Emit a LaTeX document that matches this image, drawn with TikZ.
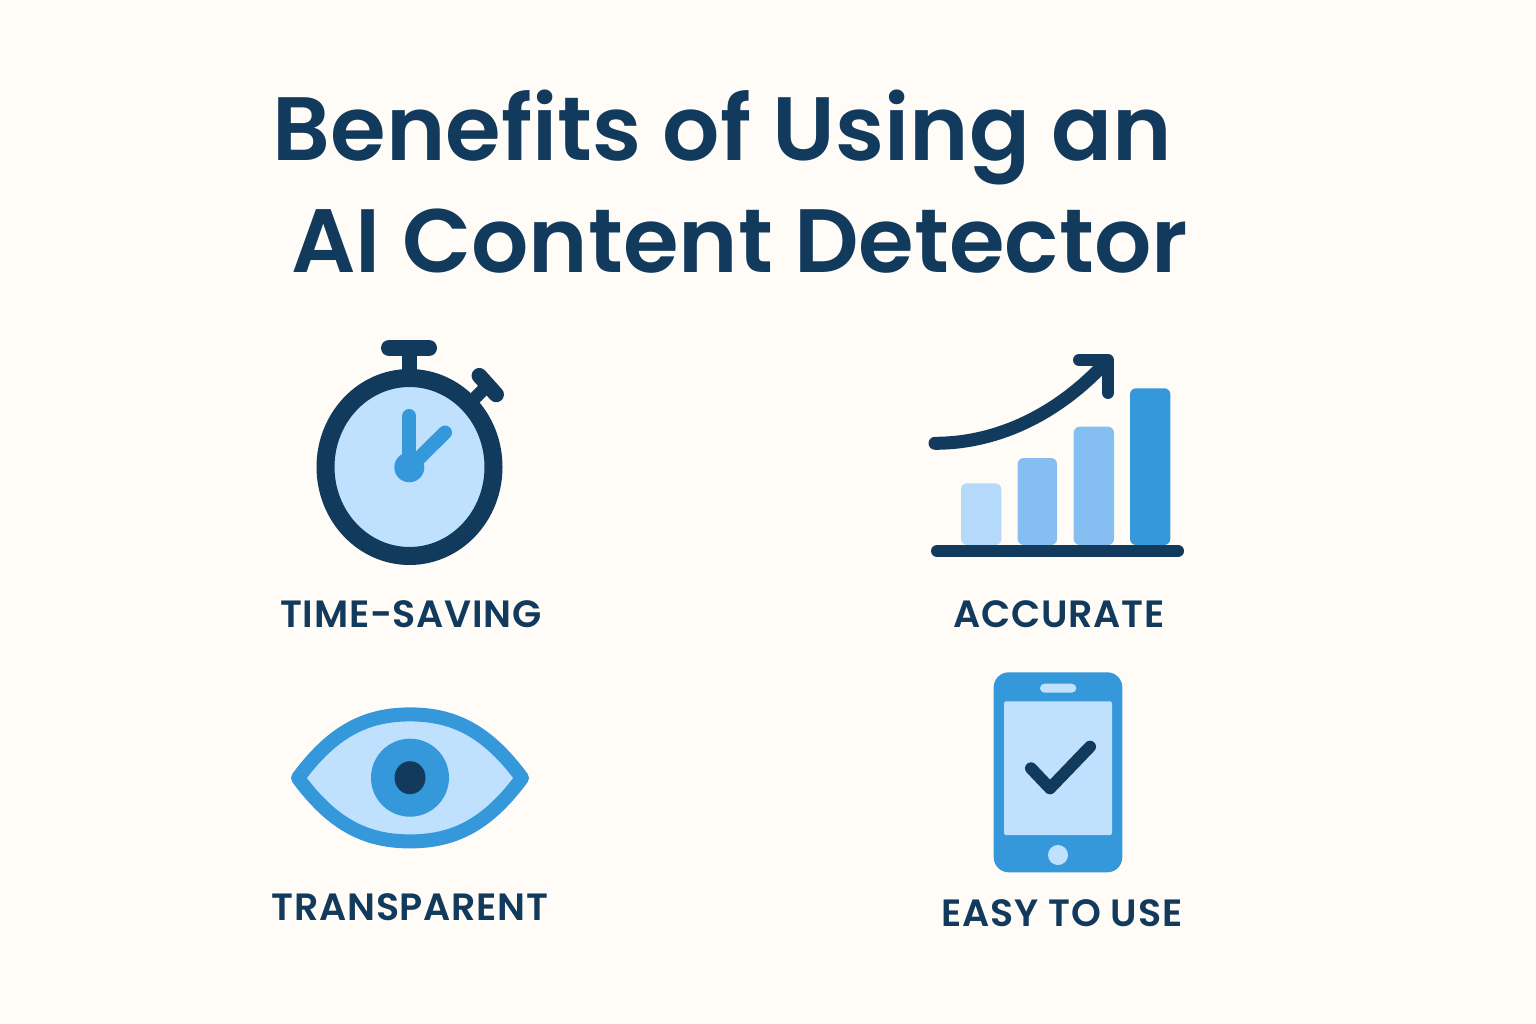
\documentclass[tikz,border=0pt]{standalone}
\usepackage{fontspec}
\setmainfont{Poppins SemiBold}
\usepackage{tikz}
\definecolor{paper}{HTML}{FFFCF7}
\definecolor{navy}{HTML}{123A5C}
\definecolor{sky}{HTML}{3498DB}
\definecolor{pale}{HTML}{BFE1FD}
\definecolor{palebar}{HTML}{B5D9FB}
\definecolor{midbar}{HTML}{85BFF2}
\newcommand{\headfont}{\fontsize{90}{112}\selectfont}
\newcommand{\capfont}{\fontsize{38}{46}\selectfont\addfontfeatures{LetterSpace=2}}

\begin{document}
\begin{tikzpicture}[x=1pt,y=-1pt]
      \tikzstyle{heading}=[text=navy,inner sep=0pt,anchor=base,font=\headfont]
      \tikzstyle{caption}=[text=navy,inner sep=0pt,anchor=base,font=\capfont]
      \tikzstyle{inkline}=[draw=navy,line cap=round]
      \tikzstyle{handline}=[draw=sky,line width=14pt,line cap=round]
      \tikzstyle{bar}=[rounded corners=6pt]
      \fill[paper] (0,0) rectangle (1536,1024);

      \node (title1) [heading] at (722.5,160.5) {Benefits of Using an};
      \node (title2) [heading] at (739.5,272.5) {AI Content Detector};

      \draw[inkline,line width=16pt] (389,348) -- (429,348);
      \draw[draw=navy,line width=15pt] (409.5,348) -- (409.5,375);
      \draw[draw=navy,line width=13pt] (487,386) -- (468,405);
      \draw[inkline,line width=15.5pt] (479.3,375.7) -- (496.2,394.5);
      \draw[draw=navy,fill=pale,line width=18pt] (409.5,467) ellipse [x radius=84,y radius=89];
      \draw[handline] (409.3,416) -- (409.3,467);
      \draw[handline] (445,432.5) -- (410,467);
      \fill[sky] (409.3,467.3) circle [radius=15];
      \node (timelabel) [caption] at (411,627) {TIME-SAVING};

      \fill[palebar,bar] (961,545) |- (1001.3,483.3) -- (1001.3,545) -- cycle;
      \fill[midbar,bar] (1017.7,545) |- (1057,458) -- (1057,545) -- cycle;
      \fill[midbar,bar] (1073.7,545) |- (1114,426.7) -- (1114,545) -- cycle;
      \fill[sky,bar] (1130,545) |- (1170.3,388.3) -- (1170.3,545) -- cycle;
      \draw[inkline,line width=12pt] (937,551) -- (1178,551);
      \draw[inkline,line width=13pt] (935,443.3) .. controls (1000,443.3) and (1060,412) .. (1106,362);
      \draw[inkline,line width=12pt,line join=round] (1079,360) -- (1108,360) -- (1108,393);
      \node (accuratelabel) [caption] at (1059,627) {ACCURATE};

      \draw[draw=sky,fill=pale,line width=14pt,line join=round] (298,778)
	  .. controls (332,732) and (365,714.4) .. (410,714.4)
	  .. controls (455,714.4) and (488,732) .. (522,778)
	  .. controls (488,824) and (455,841.4) .. (410,841.4)
	  .. controls (365,841.4) and (332,824) .. (298,778) -- cycle;
      \fill[sky] (410,777.7) circle [radius=39];
      \fill[navy] (410,777.7) ellipse [x radius=15.5,y radius=16.5];
      \node (eyelabel) [caption] at (410,920.5) {TRANSPARENT};

      \fill[sky,rounded corners=15pt] (993.7,672.3) rectangle (1122.3,872.3);
      \fill[pale,rounded corners=1.5pt] (1004,701.3) rectangle (1112,835);
      \fill[pale,rounded corners=4.5pt] (1040,683.7) rectangle (1076.3,692.7);
      \fill[pale] (1058,855) circle [radius=10];
      \draw[inkline,line width=12pt,line join=round] (1031,768.3) -- (1050,788.3) -- (1090,746.7);
      \node (phonelabel) [caption] at (1062,926.5) {EASY TO USE};
\end{tikzpicture}
\end{document}
